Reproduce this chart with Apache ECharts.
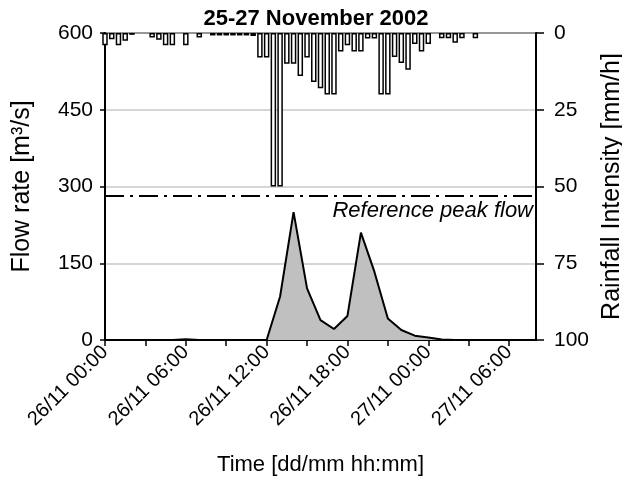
<!DOCTYPE html>
<html>
<head>
<meta charset="utf-8">
<script src="https://cdn.jsdelivr.net/npm/echarts@6/dist/echarts.min.js"></script>
<style>html,body{margin:0;padding:0;background:#fff}#c{width:622px;height:488px}</style>
</head>
<body>
<div id="c"></div>
<script>
// Hours since 26/11 00:00
var flowHours = [0,1,2,3,4,5,6,7,8,9,10,11,12,13,14,15,16,17,18,19,20,21,22,23,24,25,26,27,28,29,30,31,32];
var flowRate  = [0,0,0,0,0,0,1.5,0,0,0,0,0,0,85,250,101,39,21.5,47,210,133.5,42,19.5,8.4,5,1,0,0,0,0,0,0,0];

var rainHours = [0,0.5,1,1.5,2,3.5,4,4.5,5,6,7,8,8.5,9,9.5,10,10.5,11,11.5,12,12.5,13,13.5,14,14.5,15,15.5,16,16.5,17,17.5,18,18.5,19,19.5,20,20.5,21,21.5,22,22.5,23,23.5,24,25,25.5,26,26.5,27.5];
var rainIntensity = [4,2,4,2.5,0.6,1.5,2.2,4,4,4,1.5,0.8,0.8,0.8,0.8,0.8,0.8,1,8,8,50,50,10,10,14,8,16,18,20,20,6,4,6,6,1.8,1.8,20,20,7.8,9.8,12,3.6,6,3.6,1.7,1.7,3.2,1.7,1.7];

var referencePeakFlow = 282;
var xTickLabels = ['26/11 00:00','26/11 06:00','26/11 12:00','26/11 18:00','27/11 00:00','27/11 06:00'];
var xLabelHours = [0,6,12,18,24,30];
var xTickHours = [0,3,6,9,12,15,18,21,24,27,30];

var FONT = '"Liberation Sans", Arial, sans-serif';
var chart = echarts.init(document.getElementById('c'), null, {renderer:'canvas'});

var flowData = flowHours.map(function(h,i){return [h, flowRate[i]];});
var rainData = rainHours.map(function(h,i){return [h, rainIntensity[i]];});

chart.setOption({
  animation:false,
  backgroundColor:'#fff',
  textStyle:{fontFamily:FONT, color:'#000'},
  title:{
    text:'25-27 November 2002', left:311, top:3, textAlign:'center',
    textStyle:{fontFamily:FONT, fontSize:22, fontWeight:'bold', color:'#000'}
  },
  grid:{left:105, right:86, top:33, bottom:148, outerBoundsMode:'none', containLabel:false,
    show:true, borderColor:'#000', borderWidth:2, backgroundColor:'transparent'},
  xAxis:{
    type:'value', min:0, max:32,
    name:'Time [dd/mm hh:mm]', nameLocation:'middle', nameGap:114,
    nameTextStyle:{fontFamily:FONT, fontSize:22, color:'#000'},
    axisLine:{show:true, lineStyle:{color:'#000', width:2}},
    axisTick:{show:true, length:6, customValues:xTickHours, lineStyle:{color:'#000', width:1.5}},
    axisLabel:{customValues:xLabelHours, rotate:45, margin:9, fontFamily:FONT, fontSize:20, color:'#000',
      formatter:function(v){ return xTickLabels[xLabelHours.indexOf(v)] || ''; }},
    splitLine:{show:false}
  },
  yAxis:[{
    type:'value', min:0, max:600, interval:150, position:'left',
    name:'Flow rate [m³/s]', nameLocation:'middle', nameGap:70, nameRotate:90,
    nameTextStyle:{fontFamily:FONT, fontSize:25, color:'#000'},
    axisLine:{show:true, lineStyle:{color:'#000', width:2}},
    axisTick:{show:true, length:5, lineStyle:{color:'#000', width:1.5}},
    axisLabel:{margin:12, fontFamily:FONT, fontSize:21, color:'#000'},
    splitLine:{show:true, lineStyle:{color:'#c8c8c8', width:1.5}}
  },{
    type:'value', min:0, max:100, interval:25, inverse:true, position:'right',
    name:'Rainfall Intensity [mm/h]', nameLocation:'middle', nameGap:60, nameRotate:90,
    nameTextStyle:{fontFamily:FONT, fontSize:25, color:'#000'},
    axisLine:{show:true, lineStyle:{color:'#000', width:2}},
    axisTick:{show:true, length:8, lineStyle:{color:'#000', width:1.5}},
    axisLabel:{margin:18, fontFamily:FONT, fontSize:21, color:'#000'},
    splitLine:{show:false}
  }],
  series:[{
    type:'line', xAxisIndex:0, yAxisIndex:0, data:flowData,
    symbol:'none', lineStyle:{color:'#000', width:2},
    areaStyle:{color:'#c0c0c0', opacity:1},
    z:2,
    markLine:{
      silent:true, symbol:'none', animation:false,
      lineStyle:{color:'#000', width:2, type:[19,6,3,6]},
      label:{show:true, position:'insideEndBottom', formatter:'Reference peak flow',
        fontFamily:FONT, fontStyle:'italic', fontSize:22, color:'#000', distance:[3,4]},
      data:[{yAxis:referencePeakFlow}]
    }
  },{
    type:'bar', xAxisIndex:0, yAxisIndex:1, data:rainData,
    barWidth:5.5, itemStyle:{color:'#fff', borderColor:'#000', borderWidth:1.5},
    z:3
  }]
});
</script>
</body>
</html>
